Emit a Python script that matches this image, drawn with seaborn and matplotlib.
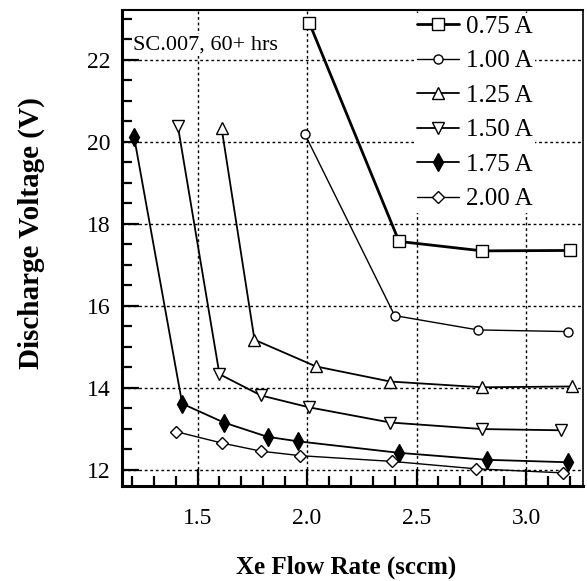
import matplotlib
matplotlib.use("Agg")
import matplotlib.pyplot as plt
import seaborn as sns
from matplotlib.ticker import MultipleLocator

sns.set_style("ticks", rc={
    'xtick.bottom': True, 'ytick.left': True,
    'xtick.top': False, 'ytick.right': False,
    'text.color': 'black', 'axes.labelcolor': 'black',
    'xtick.color': 'black', 'ytick.color': 'black',
    'axes.edgecolor': 'black',
})
plt.rcParams['font.family'] = ['Liberation Serif', 'DejaVu Serif']

labels = ["0.75 A", "1.00 A", "1.25 A", "1.50 A", "1.75 A", "2.00 A"]

x_075 = [2.01, 2.42, 2.80, 3.20]
y_075 = [22.91, 17.57, 17.34, 17.35]

x_100 = [1.99, 2.40, 2.78, 3.19]
y_100 = [20.19, 15.76, 15.41, 15.37]

x_125 = [1.61, 1.76, 2.04, 2.38, 2.80, 3.21]
y_125 = [20.33, 15.17, 14.52, 14.15, 14.01, 14.03]

x_150 = [1.41, 1.60, 1.79, 2.01, 2.38, 2.80, 3.16]
y_150 = [20.39, 14.33, 13.81, 13.52, 13.15, 12.99, 12.96]

x_175 = [1.21, 1.43, 1.62, 1.82, 1.96, 2.42, 2.82, 3.19]
y_175 = [20.13, 13.61, 13.15, 12.80, 12.69, 12.41, 12.24, 12.18]

x_200 = [1.40, 1.61, 1.79, 1.97, 2.39, 2.77, 3.17]
y_200 = [12.93, 12.65, 12.45, 12.34, 12.20, 12.02, 11.92]

x_ticks = [1.5, 2.0, 2.5, 3.0]
x_ticklabels = ["1.5", "2.0", "2.5", "3.0"]
y_ticks = [12, 14, 16, 18, 20, 22]
y_ticklabels = ["12", "14", "16", "18", "20", "22"]

xs = [x_075, x_100, x_125, x_150, x_175, x_200]
ys = [y_075, y_100, y_125, y_150, y_175, y_200]

styles = [
    dict(marker='s', markersize=8, markerfacecolor='white', linewidth=2.0),
    dict(marker='o', markersize=6.5, markerfacecolor='white', linewidth=1.0),
    dict(marker='^', markersize=9, markerfacecolor='white', linewidth=1.3),
    dict(marker='v', markersize=9, markerfacecolor='white', linewidth=1.3),
    dict(marker='d', markersize=9, markerfacecolor='black', linewidth=1.3),
    dict(marker='D', markersize=6, markerfacecolor='white', linewidth=1.0),
]

fig = plt.figure(figsize=(5.87, 5.81), dpi=100)
ax = fig.add_axes([0.2078, 0.1635, 0.7854, 0.8193])

for x, y, lab, st in zip(xs, ys, labels, styles):
    sns.lineplot(x=x, y=y, ax=ax, color='black', label=lab, sort=False,
                 markeredgecolor='black', markeredgewidth=1.0, **st)

ax.set_xlim(1.155, 3.26)
ax.set_ylim(11.6, 23.22)
ax.set_xticks(x_ticks)
ax.set_xticklabels(x_ticklabels)
ax.set_yticks(y_ticks)
ax.set_yticklabels(y_ticklabels)
ax.xaxis.set_minor_locator(MultipleLocator(0.1))
ax.yaxis.set_minor_locator(MultipleLocator(0.5))

ax.grid(True, which='major', color='black', linestyle=(0, (2, 2)), linewidth=1.0)
ax.tick_params(axis='both', which='major', direction='in', length=12, width=1.6,
               labelsize=17, color='black', labelcolor='black')
ax.tick_params(axis='both', which='minor', direction='in', length=7, width=1.6,
               color='black')
ax.tick_params(axis='x', which='major', pad=16)
ax.tick_params(axis='y', which='major', pad=8)
ax.spines['left'].set_linewidth(2.2)
ax.spines['bottom'].set_linewidth(2.2)
ax.spines['top'].set_linewidth(1.5)
ax.spines['right'].set_linewidth(1.2)
for s in ax.spines.values():
    s.set_zorder(6)

ax.set_xlabel("Xe Flow Rate (sccm)", fontsize=18, fontweight='bold')
ax.set_ylabel("Discharge Voltage (V)", fontsize=21, fontweight='bold')
ax.xaxis.set_label_coords(0.486, -0.147)
ax.yaxis.set_label_coords(-0.168, 0.5315)

ax.text(1.205, 22.37, "SC.007, 60+ hrs", fontsize=16, ha='left', va='center',
        bbox=dict(facecolor='white', edgecolor='none', pad=1))

leg = ax.legend(loc='upper left', bbox_to_anchor=(0.634, 0.994), fontsize=18,
                frameon=True, facecolor='white', edgecolor='none', framealpha=1,
                handlelength=1.7, handletextpad=0.28, labelspacing=0.48,
                borderpad=0.1, borderaxespad=0.0, fancybox=False)

fig.savefig("out.png", dpi=100, facecolor='white')
